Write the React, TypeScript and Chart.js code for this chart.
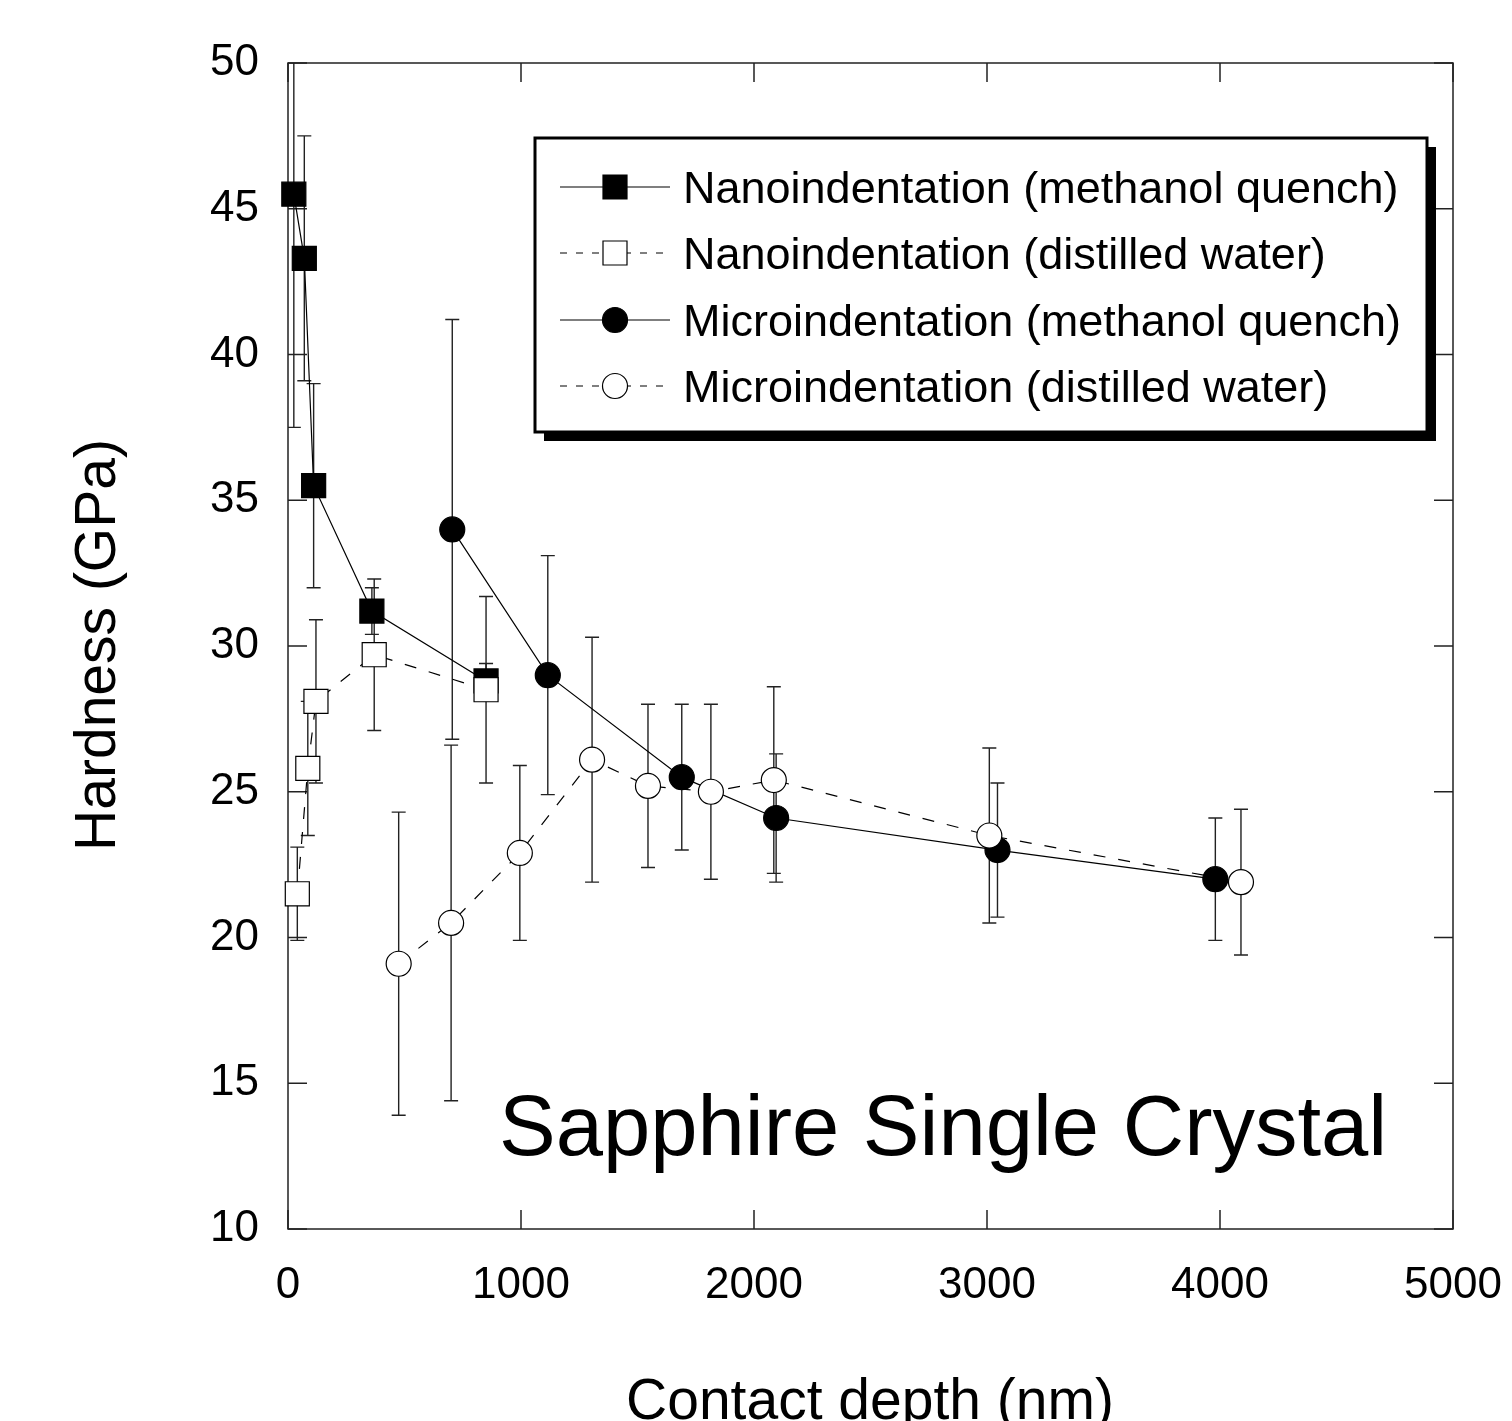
import React, { useEffect, useRef } from 'react';
import { Chart, registerables } from 'chart.js';

Chart.register(...registerables);

// ---- Axis ticks ----
const xTickValues = [0, 1000, 2000, 3000, 4000, 5000];
const yTickValues = [10, 15, 20, 25, 30, 35, 40, 45, 50];

// ---- Series: Nanoindentation (methanol quench) ----
const nanoMethX = [25, 70, 110, 360, 850];
const nanoMethY = [45.5, 43.3, 35.5, 31.2, 28.8];
const nanoMethErr = [8.0, 4.2, 3.5, 0.8, 0.6];

// ---- Series: Nanoindentation (distilled water) ----
const nanoWaterX = [40, 85, 120, 370, 850];
const nanoWaterY = [21.5, 25.8, 28.1, 29.7, 28.5];
const nanoWaterErr = [1.6, 2.3, 2.8, 2.6, 3.2];

// ---- Series: Microindentation (methanol quench) ----
const microMethX = [705, 1115, 1690, 2095, 3045, 3980];
const microMethY = [34.0, 29.0, 25.5, 24.1, 23.0, 22.0];
const microMethErr = [7.2, 4.1, 2.5, 2.2, 2.3, 2.1];

// ---- Series: Microindentation (distilled water) ----
const microWaterX = [475, 700, 995, 1305, 1545, 1815, 2085, 3010, 4090];
const microWaterY = [19.1, 20.5, 22.9, 26.1, 25.2, 25.0, 25.4, 23.5, 21.9];
const microWaterErr = [5.2, 6.1, 3.0, 4.2, 2.8, 3.0, 3.2, 3.0, 2.5];

const seriesLabels = [
  'Nanoindentation (methanol quench)',
  'Nanoindentation (distilled water)',
  'Microindentation (methanol quench)',
  'Microindentation (distilled water)',
];

const xTitle = 'Contact depth (nm)';
const yTitle = 'Hardness (GPa)';
const annotation = 'Sapphire Single Crystal';

const FONT = '"Liberation Sans", Arial, Helvetica, sans-serif';

const toPoints = (xs: number[], ys: number[]) => xs.map((x, i) => ({ x, y: ys[i] }));

const errorSets = [nanoMethErr, nanoWaterErr, microMethErr, microWaterErr];

const framePlugin = {
  id: 'frameAndErrors',
  beforeDatasetsDraw(chart: any) {
    const { ctx, chartArea: a, scales } = chart;
    const xs = scales.x;
    const ys = scales.y;
    ctx.save();
    // frame
    ctx.strokeStyle = '#222';
    ctx.lineWidth = 1.5;
    ctx.strokeRect(a.left, a.top, a.right - a.left, a.bottom - a.top);
    // inward ticks on all sides
    const tl = 19;
    ctx.beginPath();
    xTickValues.forEach((v) => {
      const p = xs.getPixelForValue(v);
      ctx.moveTo(p, a.bottom);
      ctx.lineTo(p, a.bottom - tl);
      ctx.moveTo(p, a.top);
      ctx.lineTo(p, a.top + tl);
    });
    yTickValues.forEach((v) => {
      const p = ys.getPixelForValue(v);
      ctx.moveTo(a.left, p);
      ctx.lineTo(a.left + tl, p);
      ctx.moveTo(a.right, p);
      ctx.lineTo(a.right - tl, p);
    });
    ctx.stroke();

    // error bars, clipped to plot area
    ctx.beginPath();
    ctx.rect(a.left, a.top, a.right - a.left, a.bottom - a.top);
    ctx.clip();
    ctx.strokeStyle = '#222';
    ctx.lineWidth = 1.4;
    const cap = 7;
    chart.data.datasets.forEach((ds: any, di: number) => {
      const errs = errorSets[di];
      ds.data.forEach((pt: any, i: number) => {
        const px = xs.getPixelForValue(pt.x);
        const hi = ys.getPixelForValue(pt.y + errs[i]);
        const lo = ys.getPixelForValue(pt.y - errs[i]);
        ctx.beginPath();
        ctx.moveTo(px, hi);
        ctx.lineTo(px, lo);
        ctx.moveTo(px - cap, hi);
        ctx.lineTo(px + cap, hi);
        ctx.moveTo(px - cap, lo);
        ctx.lineTo(px + cap, lo);
        ctx.stroke();
      });
    });
    ctx.restore();
  },
  afterDraw(chart: any) {
    const { ctx } = chart;
    ctx.save();
    ctx.fillStyle = '#000';

    // axis titles
    ctx.font = `57px ${FONT}`;
    ctx.textAlign = 'center';
    ctx.textBaseline = 'alphabetic';
    ctx.fillText(xTitle, 870, 1419);
    ctx.save();
    ctx.translate(115, 645);
    ctx.rotate(-Math.PI / 2);
    ctx.fillText(yTitle, 0, 0);
    ctx.restore();

    // annotation
    ctx.font = `85px ${FONT}`;
    ctx.textAlign = 'left';
    ctx.fillText(annotation, 499, 1155);

    // legend box with drop shadow
    const L = 535, T = 138, R = 1427, B = 432, sh = 9;
    ctx.fillStyle = '#000';
    ctx.fillRect(L + sh, T + sh, R - L, B - T);
    ctx.fillStyle = '#fff';
    ctx.fillRect(L, T, R - L, B - T);
    ctx.strokeStyle = '#000';
    ctx.lineWidth = 3;
    ctx.strokeRect(L, T, R - L, B - T);

    const rows = [187, 253, 320, 386];
    chart.data.datasets.forEach((ds: any, i: number) => {
      const cy = rows[i];
      ctx.save();
      ctx.strokeStyle = '#000';
      ctx.lineWidth = 1.2;
      ctx.setLineDash(ds.borderDash && ds.borderDash.length ? [7, 9] : []);
      ctx.beginPath();
      ctx.moveTo(560, cy);
      ctx.lineTo(670, cy);
      ctx.stroke();
      ctx.setLineDash([]);
      ctx.fillStyle = ds.pointBackgroundColor;
      ctx.lineWidth = 1.2;
      ctx.beginPath();
      if (ds.pointStyle === 'rect') {
        ctx.rect(615 - 12, cy - 12, 24, 24);
      } else {
        ctx.arc(615, cy, 12.5, 0, Math.PI * 2);
      }
      ctx.fill();
      ctx.stroke();
      ctx.restore();
      ctx.fillStyle = '#000';
      ctx.font = `45px ${FONT}`;
      ctx.textAlign = 'left';
      ctx.textBaseline = 'alphabetic';
      ctx.fillText(ds.label, 683, cy + 16);
    });
    ctx.restore();
  },
};

export default function App() {
  const ref = useRef<HTMLCanvasElement>(null);

  useEffect(() => {
    const canvas = ref.current;
    if (!canvas) return;
    const common = {
      showLine: true,
      borderColor: '#000',
      borderWidth: 1.2,
      pointBorderColor: '#000',
      pointBorderWidth: 1.2,
      clip: false as any,
    };
    const chart = new Chart(canvas, {
      type: 'scatter',
      data: {
        datasets: [
          {
            ...common,
            label: seriesLabels[0],
            data: toPoints(nanoMethX, nanoMethY),
            pointStyle: 'rect',
            pointRadius: 17,
            pointBackgroundColor: '#000',
            borderDash: [],
            order: 2,
          },
          {
            ...common,
            label: seriesLabels[1],
            data: toPoints(nanoWaterX, nanoWaterY),
            pointStyle: 'rect',
            pointRadius: 17,
            pointBackgroundColor: '#fff',
            borderDash: [12, 13],
            order: 1,
          },
          {
            ...common,
            label: seriesLabels[2],
            data: toPoints(microMethX, microMethY),
            pointStyle: 'circle',
            pointRadius: 12.5,
            pointBackgroundColor: '#000',
            borderDash: [],
            order: 2,
          },
          {
            ...common,
            label: seriesLabels[3],
            data: toPoints(microWaterX, microWaterY),
            pointStyle: 'circle',
            pointRadius: 12.5,
            pointBackgroundColor: '#fff',
            borderDash: [12, 13],
            order: 1,
          },
        ] as any,
      },
      options: {
        responsive: false,
        animation: false,
        devicePixelRatio: 1,
        layout: { padding: { top: 63, right: 59, left: 0, bottom: 0 } },
        plugins: {
          legend: { display: false },
          tooltip: { enabled: false },
          title: { display: false },
        },
        scales: {
          x: {
            type: 'linear',
            min: 0,
            max: 5000,
            grid: { display: false },
            border: { display: false },
            afterBuildTicks: (s: any) => {
              s.ticks = xTickValues.map((v) => ({ value: v }));
            },
            afterFit: (s: any) => {
              s.height = 192;
              s.paddingLeft = 0;
              s.paddingRight = 0;
            },
            ticks: {
              color: '#000',
              font: { family: FONT, size: 44 },
              padding: 22,
              maxRotation: 0,
              autoSkip: false,
              callback: (v: any) => String(v),
            },
          },
          y: {
            type: 'linear',
            min: 10,
            max: 50,
            grid: { display: false },
            border: { display: false },
            afterBuildTicks: (s: any) => {
              s.ticks = yTickValues.map((v) => ({ value: v }));
            },
            afterFit: (s: any) => {
              s.width = 288;
              s.paddingTop = 0;
              s.paddingBottom = 0;
            },
            ticks: {
              color: '#000',
              font: { family: FONT, size: 44 },
              padding: 21,
              autoSkip: false,
              callback: (v: any) => String(v),
            },
          },
        },
      } as any,
      plugins: [framePlugin],
    });
    return () => chart.destroy();
  }, []);

  return (
    <div style={{ position: 'absolute', left: 0, top: 0, width: 1512, height: 1421, background: '#fff' }}>
      <canvas ref={ref} width={1512} height={1421} style={{ width: 1512, height: 1421, display: 'block' }} />
    </div>
  );
}
